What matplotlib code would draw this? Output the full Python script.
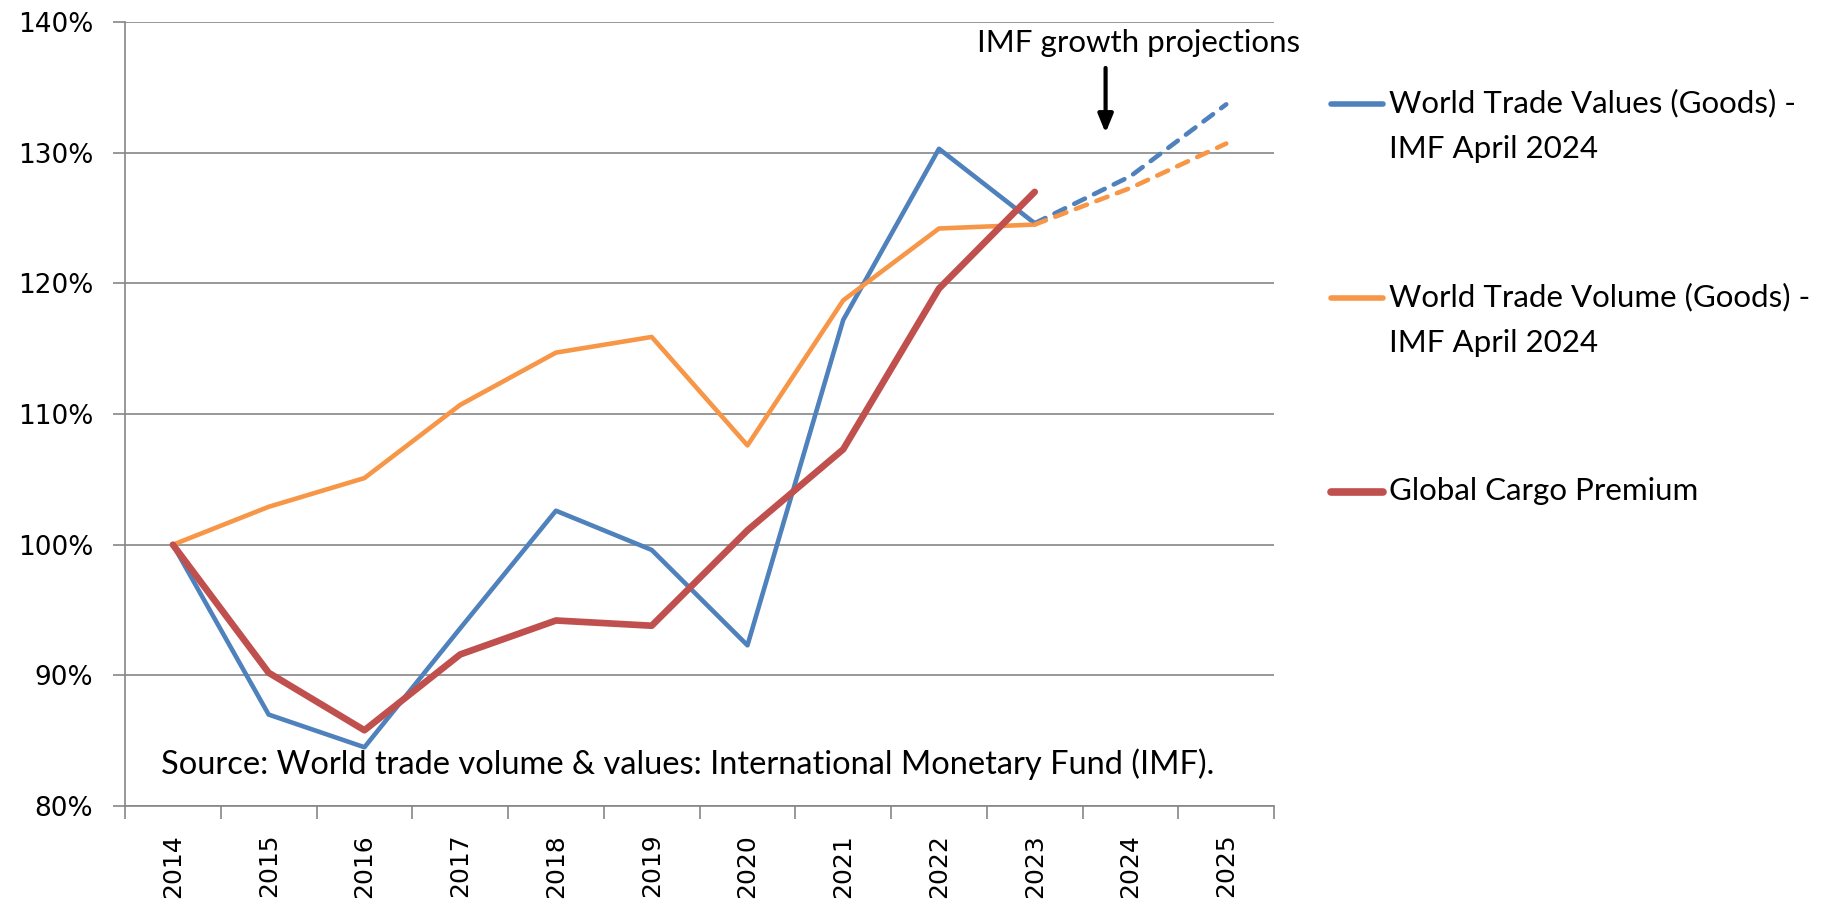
import numpy as np
import matplotlib.pyplot as plt
from matplotlib.lines import Line2D

years = ['2014', '2015', '2016', '2017', '2018', '2019', '2020', '2021', '2022', '2023', '2024', '2025']

# index values in % (2014 = 100)
trade_values = [100, 87.0, 84.5, 93.6, 102.6, 99.6, 92.3, 117.2, 130.3, 124.6]
trade_volume = [100, 102.9, 105.1, 110.7, 114.7, 115.9, 107.6, 118.7, 124.2, 124.5]
cargo_premium = [100, 90.2, 85.8, 91.6, 94.2, 93.8, 101.1, 107.3, 119.6, 127.0]

# IMF projections 2023-2025
proj_values = [124.6, 128.2, 133.7]
proj_volume = [124.5, 127.3, 130.7]

labels = ['World Trade Values (Goods) -\nIMF April 2024',
          'World Trade Volume (Goods) -\nIMF April 2024',
          'Global Cargo Premium']
colors = ['#4F81BD', '#F79646', '#C0504D']

txtfont = ['Lato', 'DejaVu Sans']

fig = plt.figure(figsize=(18.28, 8.99), dpi=100)
ax = fig.add_axes([0.0684, 0.1034, 0.6286, 0.8721])

x = np.arange(len(years))
ax.plot(x[:len(trade_values)], trade_values, color=colors[0], lw=3.3, solid_capstyle='round', zorder=3)
ax.plot(x[:len(trade_volume)], trade_volume, color=colors[1], lw=3.3, solid_capstyle='round', zorder=3)
ax.plot(x[:len(cargo_premium)], cargo_premium, color=colors[2], lw=4.8, solid_capstyle='round', zorder=4)
ax.plot(x[9:], proj_values, color=colors[0], lw=3.3, ls=(0, (2.6, 2.2)), dash_capstyle='round', zorder=3)
ax.plot(x[9:], proj_volume, color=colors[1], lw=3.3, ls=(0, (2.6, 2.2)), dash_capstyle='round', zorder=3)

ax.set_xlim(-0.5, 11.5)
ax.set_ylim(80, 140)
ax.set_yticks(np.arange(80, 141, 10))
ax.set_yticklabels([f'{v}%' for v in range(80, 141, 10)], fontsize=19, family='DejaVu Sans')
ax.set_xticks(x)
ax.set_xticklabels(years, rotation=90, fontsize=18, family='DejaVu Sans')
ax.set_xticks(np.arange(-0.5, 12, 1), minor=True)
ax.tick_params(axis='x', which='major', length=0, pad=20)
ax.tick_params(axis='x', which='minor', length=9, color='#868686', width=1.2)
ax.tick_params(axis='y', length=9, color='#868686', width=1.2, pad=14)

ax.grid(axis='y', color='#868686', lw=1.2)
ax.set_axisbelow(True)
for s in ['top', 'right']:
    ax.spines[s].set_visible(False)
for s in ['left', 'bottom']:
    ax.spines[s].set_color('#868686')
    ax.spines[s].set_linewidth(1.2)

ax.text(10.08, 138.4, 'IMF growth projections', ha='center', va='center', fontsize=22.5, family=txtfont)
ax.annotate('', xy=(9.74, 131.3), xytext=(9.74, 136.7),
            arrowprops=dict(arrowstyle='-|>,head_length=1.1,head_width=0.45', color='black', lw=3))
ax.text(-0.12, 83.2, 'Source: World trade volume & values: International Monetary Fund (IMF).',
        ha='left', va='center', fontsize=23.5, family=txtfont)

# legend drawn by hand, handle next to first text line
leg_y = [1 - 104 / 899, 1 - 298 / 899, 1 - 492 / 899]
for lab, c, yy, w in zip(labels, colors, leg_y, [4, 4, 5.5]):
    fig.add_artist(Line2D([1331 / 1828, 1383 / 1828], [yy, yy], color=c, lw=w, solid_capstyle='round'))
    fig.text(1389 / 1828, yy + 0.0165, lab, ha='left', va='top', fontsize=22.5, family=txtfont, linespacing=1.75)

plt.savefig('out.png', dpi=100)
